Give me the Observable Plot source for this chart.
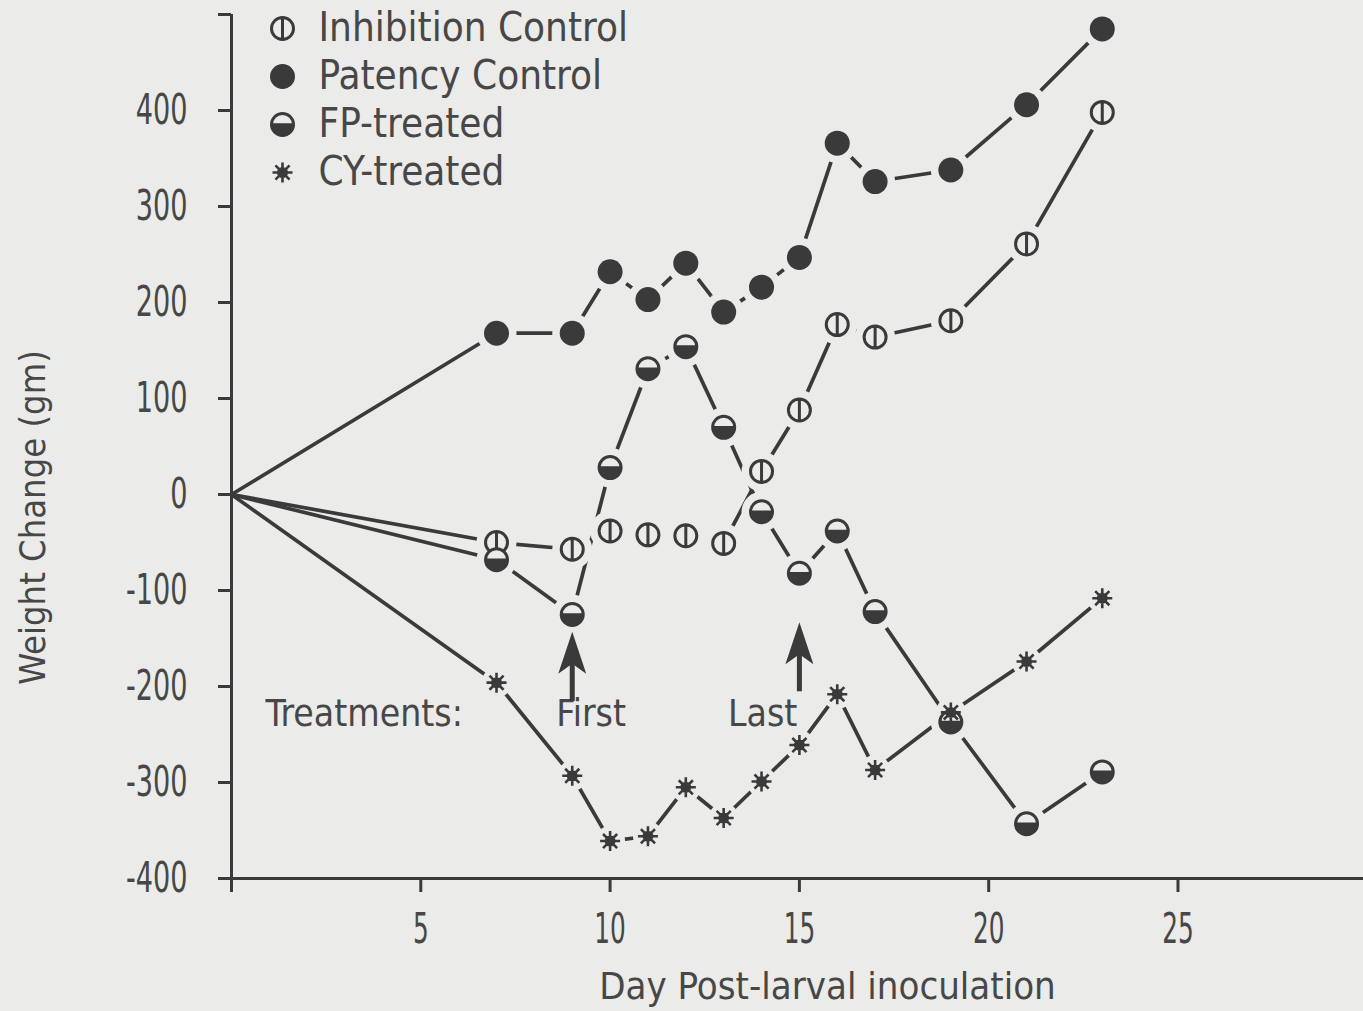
<!DOCTYPE html>
<html><head><meta charset="utf-8">
<script src="https://cdn.jsdelivr.net/npm/d3@7"></script>
<script src="https://cdn.jsdelivr.net/npm/@observablehq/plot@0.6"></script>
<style>
html,body{margin:0;padding:0;background:#ebebe9;}
#chart svg{display:block;}
#chart text{font-family:"DejaVu Sans Condensed","DejaVu Sans",sans-serif;font-stretch:condensed;}
#chart g[aria-label="y-axis tick label"] text{font-size:43px;fill:#474747;}
#chart g[aria-label="x-axis tick label"] text{font-size:43px;fill:#474747;}
</style></head><body><div id="chart"></div>
<script>
// ---- data ----
const days = [0, 7, 9, 10, 11, 12, 13, 14, 15, 16, 17, 19, 21, 23];
const inhibitionControl = [0, -50, -57, -38, -42, -43, -51, 24, 88, 177, 164, 181, 261, 398];
const patencyControl    = [0, 168, 168, 232, 203, 241, 190, 216, 247, 366, 326, 338, 406, 485];
const fpTreated         = [0, -68, -125, 28, 131, 154, 70, -18, -82, -38, -122, -237, -343, -289];
const cyTreated         = [0, -196, -293, -361, -356, -305, -337, -299, -261, -208, -287, -227, -174, -108];
const seriesNames = ["Inhibition Control", "Patency Control", "FP-treated", "CY-treated"];
const xTicks = [0, 5, 10, 15, 20, 25];
const yTicks = [-400, -300, -200, -100, 0, 100, 200, 300, 400, 500];
const treatmentLabels = ["Treatments:", "First", "Last"];
const treatmentDays = [9, 15];

// ---- styling ----
const ink = "#3a3a3a", textInk = "#474747", bg = "#ebebe9";

const seriesValues = [inhibitionControl, patencyControl, fpTreated, cyTreated];
const table = [];
seriesNames.forEach((s, i) => days.forEach((d, j) => table.push({series: s, day: d, value: seriesValues[i][j]})));
const pts = table.filter(d => d.day > 0);

// custom symbols
const circleVBar = {draw(ctx, size) { const r = Math.sqrt(size / Math.PI);
  ctx.moveTo(r, 0); ctx.arc(0, 0, r, 0, 2 * Math.PI); ctx.moveTo(0, -r); ctx.lineTo(0, r); }};
const lowerHalf = {draw(ctx, size) { const r = Math.sqrt(size / Math.PI);
  const a = Math.asin(0.12);
  ctx.moveTo(r * Math.cos(a), -r * 0.12); ctx.arc(0, 0, r, -a, Math.PI + a); ctx.closePath(); }};
const star = {draw(ctx, size) { const r = Math.sqrt(size / Math.PI);
  for (let k = 0; k < 4; k++) { const a = k * Math.PI / 4;
    ctx.moveTo(r * Math.cos(a), r * Math.sin(a)); ctx.lineTo(-r * Math.cos(a), -r * Math.sin(a)); }
  ctx.moveTo(r * 0.42, 0); ctx.arc(0, 0, r * 0.42, 0, 2 * Math.PI); }};
const arrowHead = {draw(ctx) { ctx.moveTo(0, 0); ctx.lineTo(14, 42); ctx.lineTo(0, 32); ctx.lineTo(-14, 42); ctx.closePath(); }};

function markers(name, data, o) {
  if (name === "Inhibition Control")
    return [Plot.dot(data, {...o, symbol: circleVBar, r: 11, fill: bg, stroke: ink, strokeWidth: 3})];
  if (name === "Patency Control")
    return [Plot.dot(data, {...o, r: 12.5, fill: ink})];
  if (name === "FP-treated")
    return [Plot.dot(data, {...o, r: 11, fill: bg, stroke: ink, strokeWidth: 3}),
            Plot.dot(data, {...o, symbol: lowerHalf, r: 11, fill: ink})];
  return [Plot.dot(data, {...o, symbol: star, r: 10, fill: ink, stroke: ink, strokeWidth: 2.6})];
}

const marks = [];
// connecting lines
marks.push(Plot.line(table, {x: "day", y: "value", z: "series", stroke: ink, strokeWidth: 3.7}));
// gaps around markers
marks.push(Plot.dot(pts.filter(d => d.series !== "CY-treated"), {x: "day", y: "value", r: 20, fill: bg}));
marks.push(Plot.dot(pts.filter(d => d.series === "CY-treated"), {x: "day", y: "value", r: 15, fill: bg}));
// markers
seriesNames.forEach(s => marks.push(...markers(s, pts.filter(d => d.series === s), {x: "day", y: "value"})));
// axes
marks.push(Plot.ruleX([0], {y1: -400, y2: 500, stroke: ink, strokeWidth: 3}));
marks.push(Plot.ruleY([-400], {stroke: ink, strokeWidth: 3}));
marks.push(Plot.axisY({ticks: yTicks, tickSize: 13, tickPadding: 31, strokeWidth: 3, stroke: ink, label: null,
  tickFormat: d => d === 500 ? "" : String(d)}));
marks.push(Plot.axisX({ticks: xTicks, tickSize: 14, tickPadding: 20, strokeWidth: 3, stroke: ink, label: null,
  tickFormat: d => d === 0 ? "" : String(d)}));
// axis titles
marks.push(Plot.text(["Weight Change (gm)"], {frameAnchor: "left", dx: -198, dy: 71, rotate: -90, text: d => d,
  textAnchor: "middle", lineAnchor: "middle", fontSize: 36, fill: textInk}));
marks.push(Plot.text(["Day Post-larval inoculation"], {frameAnchor: "bottom", dx: 30, dy: 108, text: d => d,
  textAnchor: "middle", lineAnchor: "middle", fontSize: 38, fill: textInk}));
// treatment annotations
marks.push(Plot.text([treatmentLabels[0]], {x: 0.9, y: -229, text: d => d, textAnchor: "start", fontSize: 37, fill: textInk}));
marks.push(Plot.text([treatmentLabels[1]], {x: treatmentDays[0], y: -229, dx: -16, text: d => d, textAnchor: "start", fontSize: 37, fill: textInk}));
marks.push(Plot.text([treatmentLabels[2]], {x: treatmentDays[1], y: -229, dx: -2, text: d => d, textAnchor: "end", fontSize: 37, fill: textInk}));
const arrowTips = [-143, -133], arrowBases = [-215, -205];
marks.push(Plot.link(treatmentDays, {x1: d => d, x2: d => d, y1: (d, i) => arrowBases[i], y2: (d, i) => arrowTips[i] - 30,
  stroke: ink, strokeWidth: 5}));
marks.push(Plot.dot(treatmentDays, {x: d => d, y: (d, i) => arrowTips[i], symbol: arrowHead, fill: ink, r: 10}));
// legend
seriesNames.forEach((s, i) => {
  marks.push(...markers(s, [s], {frameAnchor: "top-left", dx: 51, dy: 14 + 48 * i}));
  marks.push(Plot.text([s], {frameAnchor: "top-left", dx: 87, dy: 14 + 48 * i, text: d => d,
    textAnchor: "start", lineAnchor: "middle", fontSize: 40, fill: textInk}));
});

const chart = Plot.plot({
  width: 1363, height: 1011,
  marginLeft: 231, marginRight: 0, marginTop: 14, marginBottom: 133,
  x: {domain: [0, 29.9]},
  y: {domain: [-400, 500]},
  style: {background: bg, color: ink, overflow: "visible"},
  marks
});
document.getElementById("chart").appendChild(chart);

// narrow the tick numerals like the typeset original
function squeeze(selector, factor) {
  chart.querySelectorAll(selector).forEach(t => {
    const L = t.getComputedTextLength();
    if (L > 0) { t.setAttribute("textLength", L * factor); t.setAttribute("lengthAdjust", "spacingAndGlyphs"); }
  });
}
squeeze('g[aria-label="y-axis tick label"] text', 0.70);
squeeze('g[aria-label="x-axis tick label"] text', 0.64);
</script></body></html>
